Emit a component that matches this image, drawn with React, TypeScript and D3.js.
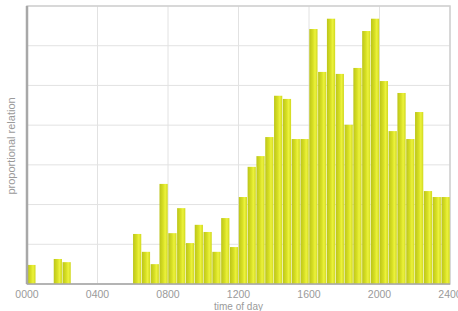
import React, { useEffect, useRef } from 'react';
import * as d3 from 'd3';

// half-hour bins, 0000 .. 2330
const binStarts: number[] = d3.range(0, 24, 0.5);
const relation: number[] = [
  0.48, 0, 0, 0.63, 0.55, 0, 0, 0, 0, 0, 0, 0,
  1.26, 0.81, 0.5, 2.52, 1.28, 1.91, 1.03, 1.49, 1.31, 0.81, 1.66, 0.93,
  2.19, 2.95, 3.22, 3.7, 4.74, 4.66, 3.65, 3.65, 6.42, 5.34, 6.68, 5.29,
  4.01, 5.44, 6.37, 6.68, 5.11, 3.85, 4.81, 3.65, 4.33, 2.34, 2.19, 2.19,
];
const xTicks: number[] = [0, 4, 8, 12, 16, 20, 24];
const xTickLabels: string[] = ['0000', '0400', '0800', '1200', '1600', '2000', '2400'];
const yGrid: number[] = [0, 1, 2, 3, 4, 5, 6, 7];

const W = 458;
const H = 311;
const margin = { top: 6, right: 8, bottom: 27, left: 27 };

const App: React.FC = () => {
  const svgRef = useRef<SVGSVGElement>(null);

  useEffect(() => {
    if (!svgRef.current) return;
    const svg = d3.select(svgRef.current);
    svg.selectAll('*').remove();

    const cw = W - margin.left - margin.right;
    const ch = H - margin.top - margin.bottom;

    const x = d3.scaleLinear().domain([0, 24]).range([0, cw]);
    const y = d3.scaleLinear().domain([0, 7]).range([ch, 0]);

    const defs = svg.append('defs');
    const grad = defs.append('linearGradient').attr('id', 'barGrad')
      .attr('x1', '0%').attr('x2', '100%').attr('y1', '0%').attr('y2', '0%');
    grad.append('stop').attr('offset', '0%').attr('stop-color', '#bcc51a');
    grad.append('stop').attr('offset', '45%').attr('stop-color', '#d8e024');
    grad.append('stop').attr('offset', '70%').attr('stop-color', '#ecf23c');
    grad.append('stop').attr('offset', '100%').attr('stop-color', '#d0d81f');

    const g = svg.append('g')
      .attr('transform', `translate(${margin.left},${margin.top})`);

    // grid
    g.append('g').selectAll('line.h')
      .data(yGrid)
      .enter().append('line')
      .attr('x1', 0).attr('x2', cw)
      .attr('y1', d => y(d)).attr('y2', d => y(d))
      .attr('stroke', '#e2e2e2').attr('stroke-width', 1);

    g.append('g').selectAll('line.v')
      .data(xTicks)
      .enter().append('line')
      .attr('x1', d => x(d)).attr('x2', d => x(d))
      .attr('y1', 0).attr('y2', ch)
      .attr('stroke', '#e2e2e2').attr('stroke-width', 1);

    // frame
    g.append('rect')
      .attr('x', 0).attr('y', 0).attr('width', cw).attr('height', ch)
      .attr('fill', 'none').attr('stroke', '#cfcfcf').attr('stroke-width', 1.5);

    // bars
    const bw = x(0.5) - x(0);
    g.append('g').selectAll('rect')
      .data(relation)
      .enter().append('rect')
      .attr('x', (_, i) => x(binStarts[i]) + 0.3)
      .attr('y', d => y(d))
      .attr('width', bw - 0.6)
      .attr('height', d => ch - y(d))
      .attr('fill', 'url(#barGrad)');

    // axes lines
    g.append('line')
      .attr('x1', 0).attr('x2', 0).attr('y1', 0).attr('y2', ch)
      .attr('stroke', '#a8a8a8').attr('stroke-width', 2.5);
    g.append('line')
      .attr('x1', 0).attr('x2', cw).attr('y1', ch).attr('y2', ch)
      .attr('stroke', '#a8a8a8').attr('stroke-width', 1.5);

    // x tick labels
    g.append('g').selectAll('text')
      .data(xTicks)
      .enter().append('text')
      .attr('x', d => x(d))
      .attr('y', ch + 14)
      .attr('text-anchor', 'middle')
      .attr('font-family', 'Liberation Sans, Arial, sans-serif')
      .attr('font-size', 10.5)
      .attr('fill', '#9a9a9a')
      .text((_, i) => xTickLabels[i]);

    g.append('text')
      .attr('x', x(12))
      .attr('y', ch + 25.5)
      .attr('text-anchor', 'middle')
      .attr('font-family', 'Liberation Sans, Arial, sans-serif')
      .attr('font-size', 10)
      .attr('fill', '#9a9a9a')
      .text('time of day');

    g.append('text')
      .attr('transform', `translate(-12,140) rotate(-90)`)
      .attr('text-anchor', 'middle')
      .attr('font-family', 'Liberation Sans, Arial, sans-serif')
      .attr('font-size', 11)
      .attr('fill', '#9a9a9a')
      .text('proportional relation');
  }, []);

  return (
    <div style={{ position: 'fixed', left: 0, top: 0, background: '#fff' }}>
      <svg ref={svgRef} width={W} height={H} style={{ display: 'block' }} />
    </div>
  );
};

export default App;
